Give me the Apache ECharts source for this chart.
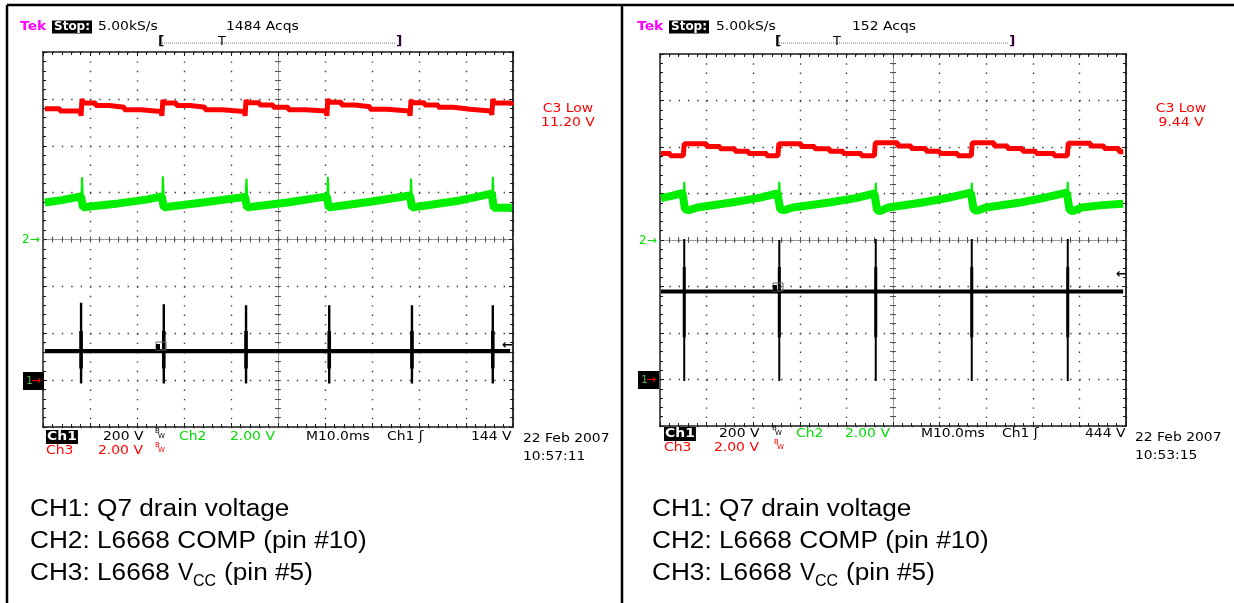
<!DOCTYPE html>
<html><head><meta charset="utf-8"><title>L6668 scope captures</title>
<script src="https://cdn.jsdelivr.net/npm/echarts@6/dist/echarts.min.js"></script>
<style>html,body{margin:0;padding:0;background:#fff;}#chart{width:1234px;height:603px;}</style>
</head><body><div id="chart"></div>
<script>
// ---------- DATA (values in scope divisions: x 0..10, y -4..4) ----------
// Left capture (1484 Acqs, C3 Low 11.20 V)
const leftCh3 = [[0.04,2.79],[0.36,2.79],[0.36,2.74],[0.79,2.74],[0.81,2.64],[0.83,3.00],[0.85,2.91],
  [1.12,2.91],[1.12,2.86],[1.41,2.86],[1.41,2.82],[1.73,2.82],[1.73,2.77],[2.09,2.77],[2.09,2.73],[2.51,2.73],[2.53,2.64],[2.55,2.98],[2.57,2.91],
  [2.84,2.91],[2.84,2.86],[3.13,2.86],[3.13,2.82],[3.45,2.82],[3.45,2.77],[3.81,2.77],[3.81,2.73],[4.28,2.73],[4.30,2.64],[4.32,2.98],[4.34,2.92],
  [4.61,2.92],[4.61,2.87],[4.90,2.87],[4.90,2.82],[5.22,2.82],[5.22,2.77],[5.58,2.77],[5.58,2.74],[6.02,2.74],[6.04,2.64],[6.06,3.00],[6.08,2.93],
  [6.35,2.93],[6.35,2.87],[6.64,2.87],[6.64,2.83],[6.96,2.83],[6.96,2.78],[7.32,2.78],[7.32,2.74],[7.79,2.74],[7.81,2.64],[7.83,2.98],[7.85,2.92],
  [8.12,2.92],[8.12,2.87],[8.41,2.87],[8.41,2.82],[8.73,2.82],[8.73,2.78],[9.09,2.78],[9.09,2.74],[9.53,2.74],[9.55,2.66],[9.57,3.00],[9.59,2.91],
  [9.96,2.91],[9.98,2.86]];
const leftCh2 = [[0.04,0.79],[0.40,0.84],[0.81,0.92],[0.85,0.68],[0.95,0.70],[1.60,0.77],[2.20,0.85],[2.53,0.92],
  [2.57,0.68],[2.67,0.70],[3.40,0.79],[4.30,0.91],[4.34,0.68],[4.45,0.70],[5.20,0.79],[6.04,0.92],
  [6.08,0.68],[6.19,0.70],[7.00,0.81],[7.81,0.94],[7.85,0.68],[7.96,0.70],[8.80,0.82],[9.55,0.98],
  [9.59,0.68],[9.70,0.68],[9.98,0.68]];
const leftCh2Spikes = [
  [[0.82,0.92],[0.83,1.33],[0.86,0.62]],
  [[2.54,0.92],[2.55,1.35],[2.58,0.62]],
  [[4.31,0.91],[4.33,1.30],[4.36,0.62]],
  [[6.05,0.92],[6.06,1.34],[6.09,0.62]],
  [[7.82,0.94],[7.83,1.30],[7.86,0.62]],
  [[9.56,0.98],[9.57,1.34],[9.60,0.62]]];
const leftCh1Base = [[0.04,-2.38],[9.94,-2.38]];
const leftCh1SpikeX = [0.81,2.57,4.32,6.09,7.85,9.57];
const leftCh1SpikeTop = [-1.35,-1.38,-1.40,-1.40,-1.40,-1.40];
const leftCh1SpikeLow = [-3.07,-3.07,-3.07,-3.07,-3.07,-3.07];
const leftCh1Thick = [-1.95,-2.75];

// Right capture (152 Acqs, C3 Low 9.44 V)
const rightCh3 = [[0.02,1.86],[0.22,1.86],[0.22,1.81],[0.50,1.81],[0.52,2.07],
  [1.00,2.07],[1.00,2.01],[1.29,2.01],[1.29,1.96],[1.61,1.96],[1.61,1.91],[1.90,1.91],[1.90,1.86],[2.29,1.86],[2.29,1.81],[2.53,1.81],[2.55,2.07],
  [3.03,2.07],[3.03,2.01],[3.32,2.01],[3.32,1.96],[3.64,1.96],[3.64,1.91],[3.93,1.91],[3.93,1.86],[4.32,1.86],[4.32,1.81],[4.60,1.81],[4.62,2.09],
  [5.10,2.09],[5.10,2.02],[5.39,2.02],[5.39,1.97],[5.71,1.97],[5.71,1.91],[6.00,1.91],[6.00,1.86],[6.39,1.86],[6.39,1.81],[6.68,1.81],[6.70,2.09],
  [7.17,2.09],[7.17,2.02],[7.46,2.02],[7.46,1.97],[7.78,1.97],[7.78,1.91],[8.07,1.91],[8.07,1.86],[8.46,1.86],[8.46,1.81],[8.74,1.81],[8.76,2.08],
  [9.24,2.08],[9.24,2.02],[9.53,2.02],[9.53,1.97],[9.85,1.97],[9.85,1.90],[9.94,1.90]];
const rightCh2 = [[0.02,0.90],[0.25,0.95],[0.48,1.01],[0.54,0.66],[0.62,0.64],[0.80,0.70],[1.50,0.80],[2.10,0.90],[2.52,1.00],
  [2.58,0.66],[2.66,0.64],[2.85,0.70],[3.60,0.80],[4.20,0.90],[4.60,1.00],[4.66,0.64],[4.72,0.62],[4.90,0.70],
  [5.60,0.80],[6.25,0.92],[6.67,1.02],[6.73,0.66],[6.80,0.63],[7.00,0.70],[7.70,0.80],[8.30,0.92],[8.73,1.02],
  [8.79,0.64],[8.86,0.62],[9.05,0.70],[9.50,0.75],[9.94,0.78]];
const rightCh2Spikes = [
  [[0.51,1.01],[0.52,1.25],[0.55,0.60]],
  [[2.55,1.00],[2.56,1.25],[2.59,0.60]],
  [[4.62,1.00],[4.63,1.23],[4.66,0.60]],
  [[6.68,1.02],[6.69,1.23],[6.72,0.60]],
  [[8.74,1.02],[8.75,1.25],[8.78,0.60]]];
const rightCh1Base = [[0.02,-1.11],[9.94,-1.11]];
const rightCh1SpikeX = [0.52,2.56,4.63,6.69,8.75];
const rightCh1SpikeTop = [0.02,0.00,0.02,0.02,0.02];
const rightCh1SpikeLow = [-3.03,-3.03,-3.03,-3.03,-3.03];
const rightCh1Thick = [-0.58,-2.09];

// Text content
const headerLeft = ['Tek', 'Stop:', '5.00kS/s', '1484 Acqs'];
const headerRight = ['Tek', 'Stop:', '5.00kS/s', '152 Acqs'];
const footLeft = ['Ch1', '200 V', 'Ch2', '2.00 V', 'M10.0ms', 'Ch1 ʃ', '144 V', 'Ch3', '2.00 V', '22 Feb 2007', '10:57:11'];
const footRight = ['Ch1', '200 V', 'Ch2', '2.00 V', 'M10.0ms', 'Ch1 ʃ', '444 V', 'Ch3', '2.00 V', '22 Feb 2007', '10:53:15'];
const c3Left = ['C3 Low', '11.20 V'];
const c3Right = ['C3 Low', '9.44 V'];
const captionLines = ['CH1: Q7 drain voltage', 'CH2: L6668 COMP (pin #10)', 'CH3: L6668', 'V', 'CC', '(pin #5)'];

// ---------- LAYOUT ----------
const panels = [
  {grid:{left:43, top:52, width:470, height:375}},
  {grid:{left:660, top:54, width:466, height:372}}
];
const RED = '#ff0000', GREEN = '#00ee00', BLACK = '#000000';
const xAxes = [], yAxes = [], series = [], gfx = [];

panels.forEach((p, g) => {
  const w = p.grid.width, h = p.grid.height;
  const stepX = w / 50, stepY = h / 40;
  const dark = '#1a1a1a';
  const base = {gridIndex:g, type:'value', axisLabel:{show:false}};
  const tickS = {color:dark, width:1};
  xAxes.push(Object.assign({}, base, {min:0, max:10, interval:1, position:'bottom',
    axisLine:{show:true, onZero:false, lineStyle:{color:dark, width:1.6}},
    axisTick:{show:true, inside:true, length:4, lineStyle:tickS},
    minorTick:{show:true, splitNumber:5, length:3, lineStyle:tickS},
    splitLine:{show:true, lineStyle:{color:'#3a3a3a', width:1.4, type:[1.4, stepY - 1.4]}}}));
  xAxes.push(Object.assign({}, base, {min:0, max:10, interval:1, position:'top',
    axisLine:{show:true, onZero:false, lineStyle:{color:dark, width:1.6}},
    axisTick:{show:true, inside:true, length:4, lineStyle:tickS},
    minorTick:{show:true, splitNumber:5, length:3, lineStyle:tickS},
    splitLine:{show:false}}));
  [true, false].forEach(ins => xAxes.push(Object.assign({}, base, {min:0, max:10, interval:1, position:'bottom', offset:-h/2,
    axisLine:{show:true, onZero:false, lineStyle:{color:'#8a8a8a', width:1, type:[1,1.5]}},
    axisTick:{show:true, inside:ins, length:3, lineStyle:{color:'#555'}},
    minorTick:{show:true, splitNumber:5, length:3, lineStyle:{color:'#555'}},
    splitLine:{show:false}})));
  yAxes.push(Object.assign({}, base, {min:-4, max:4, interval:1, position:'left',
    axisLine:{show:true, onZero:false, lineStyle:{color:'#444', width:1.8}},
    axisTick:{show:true, inside:true, length:4, lineStyle:tickS},
    minorTick:{show:true, splitNumber:5, length:3, lineStyle:tickS},
    splitLine:{show:true, lineStyle:{color:'#3a3a3a', width:1.4, type:[1.4, stepX - 1.4]}}}));
  yAxes.push(Object.assign({}, base, {min:-4, max:4, interval:1, position:'right',
    axisLine:{show:true, onZero:false, lineStyle:{color:dark, width:1.8}},
    axisTick:{show:true, inside:true, length:4, lineStyle:tickS},
    minorTick:{show:true, splitNumber:5, length:3, lineStyle:tickS},
    splitLine:{show:false}}));
  [true, false].forEach(ins => yAxes.push(Object.assign({}, base, {min:-4, max:4, interval:1, position:'left', offset:-w/2,
    axisLine:{show:true, onZero:false, lineStyle:{color:'#8a8a8a', width:1, type:[1,1.5]}},
    axisTick:{show:true, inside:ins, length:3, lineStyle:{color:'#555'}},
    minorTick:{show:true, splitNumber:5, length:3, lineStyle:{color:'#555'}},
    splitLine:{show:false}})));
});

function lineSeries(g, data, color, width, z) {
  return {type:'line', xAxisIndex:g*4, yAxisIndex:g*4, data:data, symbol:'none', silent:true,
    connectNulls:false, animation:false, z:z || 2, clip:false,
    lineStyle:{color:color, width:width, cap:'butt', join:'bevel'}};
}
function spikeData(xs, tops, lows) {
  const d = [];
  xs.forEach((x, i) => { d.push([x, tops[i]], [x, lows[i]], [x, '-']); });
  return d;
}
function thickData(xs, range) {
  const d = [];
  xs.forEach(x => { d.push([x, range[0]], [x, range[1]], [x, '-']); });
  return d;
}
function nestedData(groups) {
  const d = [];
  groups.forEach(gr => { gr.forEach(pt => d.push(pt)); d.push([gr[0][0], '-']); });
  return d;
}

series.push(lineSeries(0, leftCh1Base, BLACK, 4.2, 3));
series.push(lineSeries(0, spikeData(leftCh1SpikeX, leftCh1SpikeTop, leftCh1SpikeLow), BLACK, 2.4, 3));
series.push(lineSeries(0, thickData(leftCh1SpikeX, leftCh1Thick), BLACK, 3.6, 3));
series.push(lineSeries(0, leftCh2, GREEN, 8, 4));
series.push(lineSeries(0, nestedData(leftCh2Spikes), GREEN, 2, 4));
series.push(lineSeries(0, leftCh3, RED, 5, 5));
series.push(lineSeries(1, rightCh1Base, BLACK, 4, 3));
series.push(lineSeries(1, spikeData(rightCh1SpikeX, rightCh1SpikeTop, rightCh1SpikeLow), BLACK, 2, 3));
series.push(lineSeries(1, thickData(rightCh1SpikeX, rightCh1Thick), BLACK, 3, 3));
series.push(lineSeries(1, rightCh2, GREEN, 8, 4));
series.push(lineSeries(1, nestedData(rightCh2Spikes), GREEN, 2, 4));
series.push(lineSeries(1, rightCh3, RED, 5, 5));

// ---------- TEXT / DECORATION ----------
const SCOPE_FONT = '"DejaVu Sans", Verdana, sans-serif';
function txt(x, y, text, fill, size, opts) {
  opts = opts || {};
  return {type:'text', x:x, y:y, scaleX:opts.scaleX || 1.07, z:100,
    style:Object.assign({text:text, fill:fill, font:(opts.weight || 'normal') + ' ' + size + 'px ' + (opts.family || SCOPE_FONT),
      align:opts.align || 'left', verticalAlign:'middle'}, opts.style || {})};
}
function line(x1, y1, x2, y2, stroke, width, dash) {
  return {type:'line', z:100, shape:{x1:x1, y1:y1, x2:x2, y2:y2}, style:{stroke:stroke, lineWidth:width, lineDash:dash || null}};
}

gfx.push(line(7, 5, 1234, 5, '#000', 2.5));
gfx.push(line(7, 5, 7, 603, '#000', 2.5));
gfx.push(line(622, 5, 622, 603, '#000', 2.5));

const headers = [headerLeft, headerRight];
const foots = [footLeft, footRight];
const c3s = [c3Left, c3Right];
const hdrX = [[20, 52, 98, 226], [637, 669, 716, 852]];
const brk = [[158, 218, 396], [775, 833, 1009]];
const footX = [[46, 103, 179, 230, 306, 387, 471, 46, 98, 523, 523], [664, 719, 796, 845, 921, 1002, 1085, 664, 714, 1135, 1135]];
const footY = [[437, 437, 437, 437, 437, 437, 437, 451, 451, 439, 457], [434, 434, 434, 434, 434, 434, 434, 448, 448, 438, 456]];
const footCol = [BLACK, BLACK, '#00dd00', '#00dd00', BLACK, BLACK, BLACK, RED, RED, BLACK, BLACK];
const c3Pos = [[568, 109, 123], [1181, 109, 123]];
const bwPos = [[[155, 433, BLACK], [155, 447, RED]], [[772, 430, BLACK], [774, 444, RED]]];
const trigBox = [[156, 342], [773, 283]];
const levelArrow = [[502, 346], [1116, 275]];
const gnd2 = [[22, 240], [639, 241]];
const gnd3 = [[23, 372], [638, 371]];
const CAP = '"Liberation Sans", Arial, Helvetica, sans-serif';

[0, 1].forEach(i => {
  const h = headers[i], hx = hdrX[i];
  gfx.push(txt(hx[0], 27, h[0], '#ff00ff', 13, {weight:'bold'}));
  gfx.push(txt(hx[1], 27, h[1], '#fff', 12, {weight:'bold', scaleX:1, style:{backgroundColor:'#000', padding:[1, 2, 0, 2]}}));
  gfx.push(txt(hx[2], 27, h[2], '#000', 13));
  gfx.push(txt(hx[3], 27, h[3], '#000', 13));
  const b = brk[i];
  gfx.push(line(b[0] + 4, 43, b[2], 43, '#777', 1, [1, 1]));
  gfx.push(txt(b[0], 42, '[', '#000', 13, {weight:'bold'}));
  gfx.push(txt(b[1], 42, 'T', '#000', 12));
  gfx.push(txt(b[2], 42, ']', '#330033', 13, {weight:'bold'}));
  const f = foots[i];
  f.forEach((s, k) => {
    const o = k === 0 ? {weight:'bold', style:{backgroundColor:'#000', padding:[1, 1, 0, 1]}} : {};
    gfx.push(txt(footX[i][k], footY[i][k], s, k === 0 ? '#fff' : footCol[k], 13, o));
  });
  bwPos[i].forEach(bp => {
    gfx.push(txt(bp[0], bp[1] - 2, 'B', bp[2], 7, {scaleX:1}));
    gfx.push(txt(bp[0] + 3, bp[1] + 3, 'W', bp[2], 7, {scaleX:1}));
  });
  const c = c3Pos[i];
  gfx.push(txt(c[0], c[1], c3s[i][0], RED, 13, {align:'center'}));
  gfx.push(txt(c[0], c[2], c3s[i][1], RED, 13, {align:'center'}));
  const tb = trigBox[i];
  gfx.push({type:'rect', z:101, shape:{x:tb[0], y:tb[1], width:10, height:8}, style:{fill:'none', stroke:'#666', lineWidth:1}});
  gfx.push({type:'rect', z:101, shape:{x:tb[0], y:tb[1] + 2, width:4, height:6}, style:{fill:'#000'}});
  const la = levelArrow[i];
  gfx.push(txt(la[0], la[1], '←', '#000', 13, {weight:'bold', scaleX:1}));
  const g2 = gnd2[i];
  gfx.push(txt(g2[0], g2[1], '2→', '#00dd00', 12, {scaleX:1}));
  const g3 = gnd3[i];
  gfx.push({type:'rect', z:100, shape:{x:g3[0], y:g3[1], width:21, height:18}, style:{fill:'#000'}});
  gfx.push(txt(g3[0] + 3, g3[1] + 9, '1', '#5a5', 11, {scaleX:1}));
  gfx.push(txt(g3[0] + 8, g3[1] + 9, '→', RED, 12, {scaleX:1}));
  const cx = 30 + 622 * i;
  const capOpt = {family:CAP, scaleX:1.14};
  gfx.push(txt(cx, 510, captionLines[0], '#000', 23, capOpt));
  gfx.push(txt(cx, 542, captionLines[1], '#000', 23, capOpt));
  gfx.push(txt(cx, 574, captionLines[2], '#000', 23, capOpt));
  gfx.push(txt(cx + 148, 574, captionLines[3], '#000', 23, {family:CAP, scaleX:1.0}));
  gfx.push(txt(cx + 163, 582, captionLines[4], '#000', 16, {family:CAP, scaleX:1.0}));
  gfx.push(txt(cx + 194, 574, captionLines[5], '#000', 23, capOpt));
});

const chart = echarts.init(document.getElementById('chart'), null, {renderer:'canvas'});
chart.setOption({
  animation:false,
  backgroundColor:'#ffffff',
  grid:panels.map(p => Object.assign({containLabel:false}, p.grid)),
  xAxis:xAxes,
  yAxis:yAxes,
  series:series,
  graphic:{elements:gfx}
});
</script></body></html>
